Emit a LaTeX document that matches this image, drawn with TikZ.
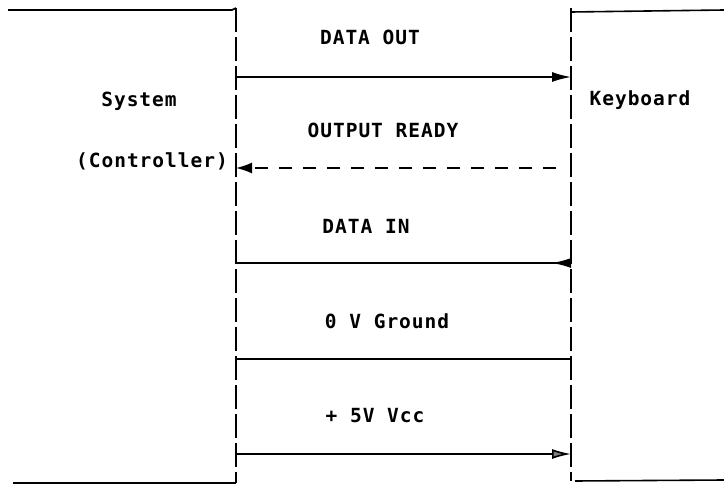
\documentclass[tikz,border=0pt]{standalone}
\usepackage{fontspec}
\newfontfamily\typew[LetterSpace=5]{DejaVu Sans Mono Bold}
\usetikzlibrary{arrows.meta}
\begin{document}
\begin{tikzpicture}[x=1pt,y=-1pt,
  wire/.style={line width=1.6pt, black},
  bus/.style={wire, dash pattern=on 24pt off 5pt},
  lbl/.style={font=\typew\fontsize{19.5}{22}\selectfont, inner sep=0pt}
]
\useasboundingbox (0,0) rectangle (724,495);
% frame coordinates
\coordinate (LT) at (236,8);
\coordinate (LB) at (236,483);
\coordinate (RT) at (571,8);
\coordinate (RB) at (571,481);
\coordinate (LTend) at (8,10);
\coordinate (LBend) at (13,483);
\coordinate (RTend) at (724,10);
\coordinate (RBend) at (724,480);
\draw[wire] (LTend) -- (232,10) -- (LT);
\draw[wire] (LBend) -- (LB);
\draw[wire] (571,12) -- (RTend);
\draw[wire] (575,481) -- (RBend);
\draw[bus] (LT) -- (LB);
\draw[bus] (RT) -- (RB);
% signal lines
\coordinate (a1) at (236,77);  \coordinate (b1) at (571,77);
\coordinate (a2) at (236,168); \coordinate (b2) at (556,168);
\coordinate (a3) at (236,263); \coordinate (b3) at (571,263);
\coordinate (a4) at (236,359); \coordinate (b4) at (571,359);
\coordinate (a5) at (236,454); \coordinate (b5) at (571,454);
\draw[wire,-{Latex[length=19pt,width=10pt]}] (a1) -- (b1);
\draw[wire,dash pattern=on 13pt off 11pt,-{Latex[length=16pt,width=11pt]}] (b2) -- (a2);
\draw[wire,-{Latex[length=19pt,width=10pt,reversed]}] (a3) -- (b3);
\draw[wire] (a4) -- (b4);
\draw[wire,-{Latex[length=19pt,width=10pt,open,fill=gray]}] (a5) -- (b5);
% labels
\node[lbl] (t1) at (370,37) {DATA OUT};
\node[lbl] (t2) at (383,130) {OUTPUT READY};
\node[lbl] (t3) at (366,226) {DATA IN};
\node[lbl] (t4) at (387,321) {0 V Ground};
\node[lbl] (t5) at (375,416) {+ 5V Vcc};
\node[lbl] (sys) at (139,101) {System};
\node[lbl] (ctl) at (152,161) {(Controller)};
\node[lbl] (kbd) at (640,100) {Keyboard};
\end{tikzpicture}
\end{document}
